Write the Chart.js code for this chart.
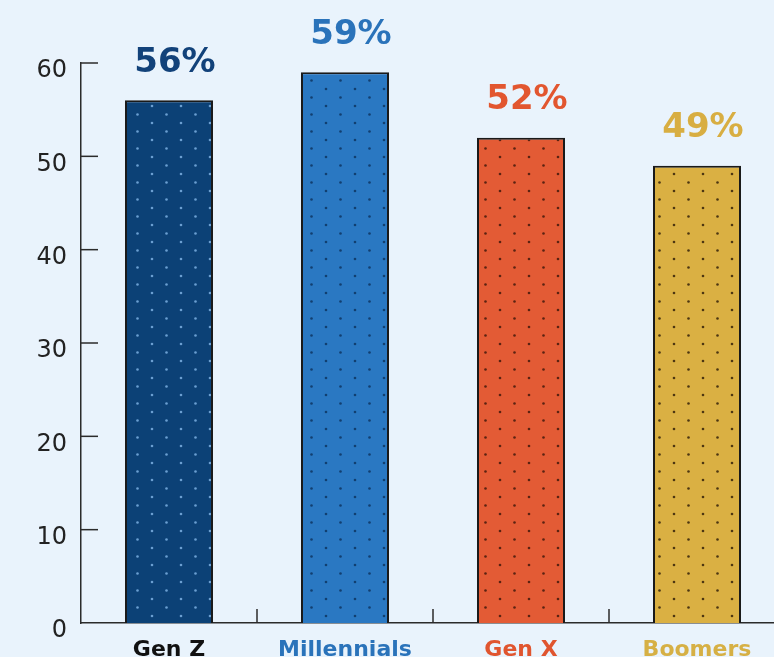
<!DOCTYPE html>
<html>
<head>
<meta charset="utf-8">
<script src="https://cdn.jsdelivr.net/npm/chart.js@4.4.1/dist/chart.umd.min.js"></script>
<style>
  html, body { margin: 0; padding: 0; background: #e9f3fc; overflow: hidden; }
  #wrap { width: 774px; height: 657px; overflow: hidden; }
</style>
</head>
<body>
<div id="wrap"><canvas id="genChart" width="790" height="657"></canvas></div>
<script>
// chart data
const categories = ['Gen Z', 'Millennials', 'Gen X', 'Boomers'];
const shares = [56, 59, 52, 49];
const shareLabels = ['56%', '59%', '52%', '49%'];
const yTicks = [0, 10, 20, 30, 40, 50, 60];

// colours per generation
const barColors   = ['#0c4176', '#2a78c2', '#e35b35', '#dab043'];
const dotColors   = ['#6b9fd1', '#123f70', '#5a2312', '#4d3612'];
const labelColors = ['#12427a', '#2a73ba', '#e2562f', '#d8ae42'];
const catColors   = ['#111111', '#2a73ba', '#e0552f', '#d6b045'];

// little staggered dot pattern for the bar fills
function makePattern(fill, dot) {
  const c = document.createElement('canvas');
  c.width = 29;
  c.height = 17;
  const g = c.getContext('2d');
  g.fillStyle = fill;
  g.fillRect(0, 0, c.width, c.height);
  g.fillStyle = dot;
  [[7, 4], [21.5, 12.5]].forEach(p => {
    g.beginPath();
    g.arc(p[0], p[1], 1.3, 0, Math.PI * 2);
    g.fill();
  });
  return g.createPattern(c, 'repeat');
}
const patterns = barColors.map((col, i) => makePattern(col, dotColors[i]));

// ticks drawn inward (right on y, up on x) + value labels above bars
const decorPlugin = {
  id: 'decor',
  afterDatasetsDraw(chart) {
    const ctx = chart.ctx;
    const xs = chart.scales.x;
    const ys = chart.scales.y;
    ctx.save();
    ctx.strokeStyle = '#2b2b2b';
    ctx.lineWidth = 1.5;

    // y ticks
    yTicks.forEach(v => {
      if (v === 0) return;
      const y = ys.getPixelForValue(v);
      ctx.beginPath();
      ctx.moveTo(xs.left, y);
      ctx.lineTo(xs.left + 17, y);
      ctx.stroke();
    });

    // x ticks at category boundaries
    for (let i = 0; i < categories.length; i++) {
      const x = (xs.getPixelForValue(i) + xs.getPixelForValue(i + 1)) / 2;
      ctx.beginPath();
      ctx.moveTo(x, ys.bottom);
      ctx.lineTo(x, ys.bottom - 14);
      ctx.stroke();
    }

    // percentage labels
    const meta = chart.getDatasetMeta(0);
    ctx.font = 'bold 34px "DejaVu Sans"';
    ctx.textAlign = 'center';
    ctx.textBaseline = 'middle';
    meta.data.forEach((bar, i) => {
      ctx.fillStyle = labelColors[i];
      ctx.fillText(shareLabels[i], bar.x + 6, bar.y - 37);
    });
    ctx.restore();
  }
};

const ctx = document.getElementById('genChart').getContext('2d');
window.genChartInstance = new Chart(ctx, {
  type: 'bar',
  data: {
    labels: categories,
    datasets: [{
      data: shares,
      backgroundColor: patterns,
      borderColor: '#1a1a1a',
      borderWidth: { top: 2, left: 2, right: 2, bottom: 0 },
      borderSkipped: 'bottom',
      categoryPercentage: 1.0,
      barPercentage: 0.5
    }]
  },
  options: {
    responsive: false,
    animation: false,
    layout: { padding: { top: 63, right: 5, left: 0, bottom: 0 } },
    plugins: {
      legend: { display: false },
      tooltip: { enabled: false }
    },
    scales: {
      x: {
        grid: { display: false, drawTicks: false },
        border: { display: true, color: '#2b2b2b', width: 1.5 },
        ticks: {
          padding: 14,
          font: { family: 'DejaVu Sans', size: 22, weight: 'bold' },
          color: (c) => catColors[c.index]
        },
        afterFit(scale) { scale.height = 34; }
      },
      y: {
        min: 0,
        max: 60,
        afterBuildTicks(scale) {
          scale.ticks = yTicks.map(v => ({ value: v }));
        },
        grid: { display: false, drawTicks: false },
        border: { display: true, color: '#2b2b2b', width: 1.5 },
        ticks: {
          padding: 14,
          labelOffset: 8,
          font: { family: 'DejaVu Sans', size: 24 },
          color: '#222'
        },
        afterFit(scale) { scale.width = 81; }
      }
    }
  },
  plugins: [decorPlugin]
});
</script>
</body>
</html>
